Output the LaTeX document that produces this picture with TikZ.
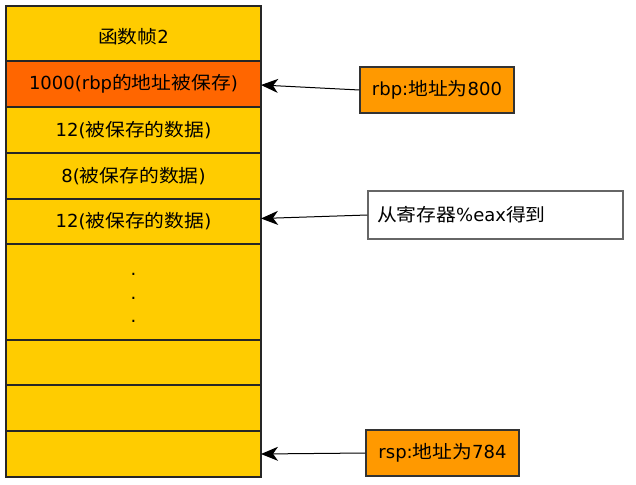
\documentclass[tikz,border=0pt]{standalone}
\usepackage{fontspec}
\setmainfont{DejaVu Sans}
\newfontfamily\zhfont[FakeStretch=1.1]{Noto Sans CJK SC}
\newcommand{\zh}[1]{{\zhfont #1}}
\usetikzlibrary{arrows.meta, positioning}
\definecolor{stackyellow}{HTML}{FFCC00}
\definecolor{savedred}{HTML}{FF6600}
\definecolor{regorange}{HTML}{FF9900}

\begin{document}
\begin{tikzpicture}[
        x=1pt, y=-1pt,
        font=\fontsize{18}{23.5}\selectfont,
        cell/.style={rectangle, draw=black!85, line width=1.2pt, fill=stackyellow, align=center, minimum width=255pt, minimum height=46pt, inner sep=0pt, outer sep=0pt},
        saved/.style={cell, fill=savedred},
        register/.style={rectangle, draw=black!80, line width=1.2pt, fill=regorange, minimum width=154pt, minimum height=46pt, inner sep=0pt},
        note/.style={rectangle, draw=black!60, line width=1.2pt, fill=white, text width=237pt, minimum height=48pt, inner xsep=9pt, align=left},
        arrow/.style={-{Stealth[length=17pt, width=14pt, inset=5pt]}, line width=1pt}
        ]
        \useasboundingbox (0,0) rectangle (636,484);

        % Stack
        \node (c1) [cell, minimum height=55pt] at (133.5,33.5) {\raisebox{-3pt}[\height][\depth]{\zh{函数帧}2}};
        \node (c2) [saved, below=0pt of c1] {1000(rbp\zh{的地址被保存})};
        \node (c3) [cell, below=0pt of c2] {12(\zh{被保存的数据})};
        \node (c4) [cell, below=0pt of c3] {8(\zh{被保存的数据})};
        \node (c5) [cell, minimum height=45pt, below=0pt of c4] {12(\zh{被保存的数据})};
        \node (c6) [cell, minimum height=96pt, below=0pt of c5] {};
        \node (c7) [cell, minimum height=45pt, below=0pt of c6] {};
        \node (c8) [cell, below=0pt of c7] {};
        \node (c9) [cell, below=0pt of c8] {};
        \node (dots) [align=center, inner sep=0pt] at ([yshift=-6pt]c6.center) {.\\.\\.};

        % Registers and notes
        \node (rbp) [register] at (437,90) {rbp:\zh{地址为}800};
        \node (eax) [note] at (495.5,215) {\zh{从寄存器}\%eax\zh{得到}};
        \node (rsp) [register, minimum width=153pt] at (442.5,453) {rsp:\zh{地址为}784};

        % Arrows
        \draw [arrow] (rbp.west) -- ([yshift=-1pt]c2.east);
        \draw [arrow] (eax.west) -- ([yshift=3pt]c5.east);
        \draw [arrow] (rsp.west) -- (c9.east);

    \end{tikzpicture}
\end{document}
